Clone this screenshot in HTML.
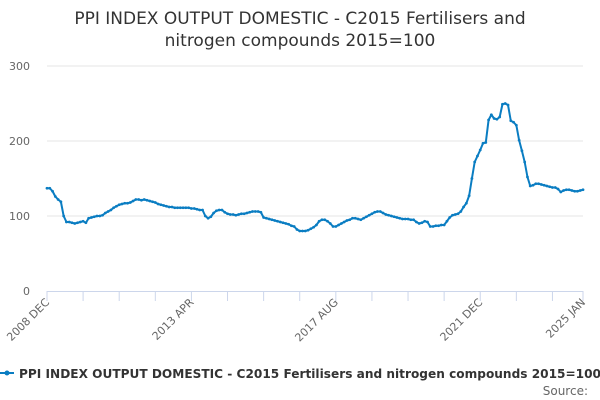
<!DOCTYPE html>
<html><head><meta charset="utf-8"><style>
body{margin:0;background:#fff;font-family:"Liberation Sans","DejaVu Sans",sans-serif}
svg{display:block}
</style></head><body>
<svg id="chart" width="600" height="400" viewBox="0 0 600 400" xmlns="http://www.w3.org/2000/svg">
<text x="300" y="24" text-anchor="middle" font-size="17" fill="#333" font-family="DejaVu Sans, sans-serif">PPI INDEX OUTPUT DOMESTIC - C2015 Fertilisers and</text>
<text x="300" y="46" text-anchor="middle" font-size="17" fill="#333" font-family="DejaVu Sans, sans-serif">nitrogen compounds 2015=100</text>
<g id="grid"></g><g id="xaxis"></g><g id="series"></g>
<g>
<line x1="0" y1="373" x2="14" y2="373" stroke="#0a7dc2" stroke-width="2"/>
<circle cx="7" cy="373" r="2.5" fill="#0a7dc2"/>
<text x="19" y="378" font-size="12.5" font-weight="bold" fill="#333" font-family="DejaVu Sans, sans-serif" textLength="582" lengthAdjust="spacingAndGlyphs">PPI INDEX OUTPUT DOMESTIC - C2015 Fertilisers and nitrogen compounds 2015=100</text>
</g>
<text x="588" y="395" text-anchor="end" font-size="12" fill="#666" font-family="DejaVu Sans, sans-serif">Source:</text>
</svg>
<script>
const yTicks=[0,100,200,300];
const xTickLabels=["2008 DEC","2013 APR","2017 AUG","2021 DEC","2025 JAN"];
const xTickLabelMonths=[0,52,104,156,193];
const values=[137,137,133,126,122,119,
100,92,92,91,90,91,92,93,
91,97,98,99,100,100,101,
104,106,108,111,113,115,
116,117,117,118,120,122,
122,121,122,121,
120,119,118,116,115,114,113,112,112,
111,111,111,111,111,111,110,110,109,108,108,
100,97,99,104,107,108,108,
105,103,102,102,101,
102,103,103,104,105,106,106,106,105,
98,97,96,95,94,93,92,
91,90,89,87,86,82,80,
80,80,81,83,85,88,
93,95,95,93,90,86,
86,88,90,92,94,95,97,
97,96,95,97,99,101,103,105,106,
106,104,102,101,100,99,98,97,
96,96,96,95,95,92,90,
91,93,92,86,
86,87,87,88,88,93,98,
101,102,103,106,112,117,127,
150,172,180,188,197,198,
228,235,230,229,232,
249,250,248,
227,225,221,201,187,172,
152,140,141,143,143,
142,141,140,139,138,138,136,132,134,135,135,134,133,133,134,135];
const NS="http://www.w3.org/2000/svg";
const X0=47,X1=583,Y0=291,YTOP=66;
const nMonths=values.length-1;
function xs(m){return X0+m*(X1-X0)/nMonths;}
function ys(v){return Y0-v*(Y0-YTOP)/300;}
function mk(tag,attrs,parent){const e=document.createElementNS(NS,tag);for(const k in attrs)e.setAttribute(k,attrs[k]);parent.appendChild(e);return e;}
const grid=document.getElementById('grid'),xa=document.getElementById('xaxis'),ser=document.getElementById('series');
yTicks.forEach(t=>{
 if(t>0){const l=mk('line',{x1:X0,x2:X1,y1:ys(t),y2:ys(t),stroke:'#e6e6e6','stroke-width':1},grid);
 
 }
 const tx=mk('text',{x:30,y:ys(t)+4,'text-anchor':'end','font-size':11,fill:'#666','font-family':'DejaVu Sans, sans-serif'},grid);
 tx.textContent=t;
 
 
});
const ax=mk('line',{x1:X0,x2:X1,y1:Y0+0.5,y2:Y0+0.5,stroke:'#ccd6eb','stroke-width':1},xa);


const tickMonths=[];for(let m=0;m<nMonths;m+=13)tickMonths.push(m);tickMonths.push(nMonths);
tickMonths.forEach(m=>{const t=mk('line',{x1:xs(m),x2:xs(m),y1:Y0,y2:Y0+10,stroke:'#ccd6eb','stroke-width':1},xa);
 
 });
xTickLabels.forEach((lab,i)=>{const x=xs(xTickLabelMonths[i]),y=Y0+12;
 const t=mk('text',{x:x+3,y:y,'text-anchor':'end','font-size':11,fill:'#666','font-family':'DejaVu Sans, sans-serif',transform:`rotate(-45 ${x+3} ${y})`},xa);
 t.textContent=lab;
 
 });
const p=mk('path',{d:values.map((v,i)=>(i?'L':'M')+xs(i).toFixed(2)+' '+ys(v).toFixed(2)).join(''),fill:'none',stroke:'#0a7dc2','stroke-width':2,'stroke-linejoin':'round'},ser);


values.forEach((v,i)=>{const c=mk('circle',{cx:xs(i),cy:ys(v),r:1.4,fill:'#0a7dc2'},ser);
 
 });
</script>
</body></html>
